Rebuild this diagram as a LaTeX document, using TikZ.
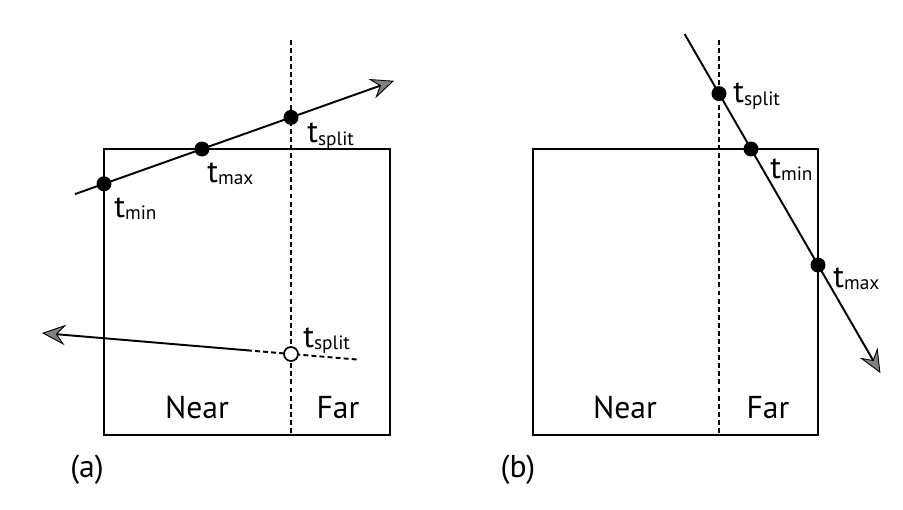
\documentclass[tikz,border=0pt]{standalone}
\usepackage{fontspec}
\setmainfont{PT Sans}
\usetikzlibrary{arrows.meta}
\newcommand{\tsub}[1]{t\raisebox{-1.5pt}{\fontsize{11}{12}\selectfont #1}}

\begin{document}
\begin{tikzpicture}[x=0.02cm,y=-0.02cm,
		box/.style={line width=1.1pt},
		split/.style={line width=1.1pt,dash pattern=on 2.8pt off 1.8pt},
		ray/.style={line width=1.1pt,-{Stealth[length=4.7mm,width=4.1mm,inset=1.7mm,fill=gray,line width=0.5pt]}},
		hit/.style={circle,fill,inner sep=0,minimum size=0.3cm},
		miss/.style={circle,draw,fill=white,line width=1pt,inner sep=0,minimum size=0.28cm},
		lab/.style={anchor=base west,inner sep=0,font=\fontsize{18}{20}\selectfont},
		txt/.style={anchor=base,inner sep=0,font=\fontsize{18}{20}\selectfont}]
		\useasboundingbox (0,0) rectangle (903,510);
		%
		% (a)
		\draw[box] (104,149) rectangle (390,435);
		\coordinate (sa1) at (291,40);
		\coordinate (sa2) at (291,435);
		\draw[split] (sa1) -- (sa2);
		\coordinate (ra1) at (75,194.1);
		\coordinate (ra2) at (394,80.8);
		\draw[ray] (ra1) -- (ra2);
		\node[hit] (tmina) at (104,183.8) {};
		\node[hit] (tmaxa) at (202,149) {};
		\node[hit] (tsplita) at (291,117.4) {};
		\coordinate (rb1) at (247,350.3);
		\coordinate (rb2) at (42,333);
		\coordinate (rb3) at (358,359.6);
		\draw[ray] (rb1) -- (rb2);
		\draw[split] (rb1) -- (rb3);
		\node[miss] (tsplitb) at (291,354) {};
		% labels
		\node[lab] (ltmina) at (114,217) {\tsub{min}};
		\node[lab] (ltmaxa) at (207,182) {\tsub{max}};
		\node[lab] (ltsplita) at (307,143) {\tsub{split}};
		\node[lab] (ltsplitb) at (303,347) {\tsub{split}};
		\node[txt] (neara) at (197,418) {Near};
		\node[txt] (fara) at (338,418) {Far};
		\node[txt] (capa) at (87,477) {(a)};
		%
		% (b)
		\draw[box] (533,149) rectangle (818,435);
		\coordinate (sb1) at (719,40);
		\coordinate (sb2) at (719,435);
		\draw[split] (sb1) -- (sb2);
		\coordinate (rc1) at (684.6,34);
		\coordinate (rc2) at (880.4,373);
		\draw[ray] (rc1) -- (rc2);
		\node[hit] (tsplitc) at (719,93.6) {};
		\node[hit] (tminc) at (751,149) {};
		\node[hit] (tmaxc) at (818,265) {};
		% labels
		\node[lab] (ltsplitc) at (733,103) {\tsub{split}};
		\node[lab] (ltminc) at (770,178) {\tsub{min}};
		\node[lab] (ltmaxc) at (833,287) {\tsub{max}};
		\node[txt] (nearb) at (625,418) {Near};
		\node[txt] (farb) at (768,418) {Far};
		\node[txt] (capb) at (518,477) {(b)};
	\end{tikzpicture}
\end{document}
